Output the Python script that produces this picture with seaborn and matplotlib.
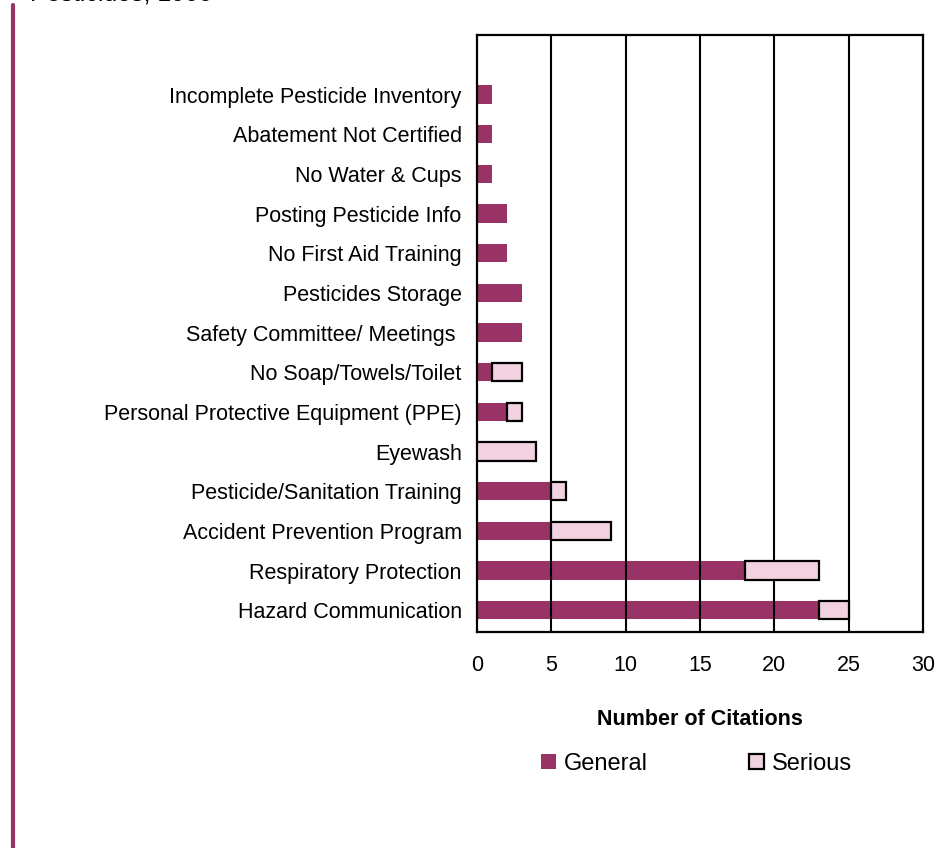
import matplotlib
matplotlib.use("Agg")
import matplotlib.pyplot as plt
from matplotlib.lines import Line2D
from matplotlib.patches import Patch
import seaborn as sns
import pandas as pd
import numpy as np

categories = [
    "Incomplete Pesticide Inventory",
    "Abatement Not Certified",
    "No Water & Cups",
    "Posting Pesticide Info",
    "No First Aid Training",
    "Pesticides Storage",
    "Safety Committee/ Meetings ",
    "No Soap/Towels/Toilet",
    "Personal Protective Equipment (PPE)",
    "Eyewash",
    "Pesticide/Sanitation Training",
    "Accident Prevention Program",
    "Respiratory Protection",
    "Hazard Communication",
]
general = [1, 1, 1, 2, 2, 3, 3, 1, 2, 0, 5, 5, 18, 23]
serious = [0, 0, 0, 0, 0, 0, 0, 2, 1, 4, 1, 4, 5, 2]
x_ticks = [0, 5, 10, 15, 20, 25, 30]

GENERAL_COLOR = "#993366"
SERIOUS_COLOR = "#F2D1E1"

df = pd.DataFrame({"category": categories, "General": general, "Serious": serious})

sns.set_style("white")
plt.rcParams["font.family"] = ["Liberation Sans", "DejaVu Sans"]

fig = plt.figure(figsize=(9.39, 8.48), dpi=100)
ax = fig.add_axes([477 / 939, 1 - 632 / 848, (923 - 477) / 939, (632 - 35) / 848])

bar_h = 0.46
sns.barplot(data=df, y="category", x="General", order=categories, color=GENERAL_COLOR,
            saturation=1, width=bar_h, orient="h", ax=ax, linewidth=0)

# Serious citations stacked after the general ones
ypos = np.arange(len(categories))
mask = np.array(serious) > 0
ax.barh(ypos[mask], np.array(serious)[mask], left=np.array(general)[mask], height=bar_h,
        color=SERIOUS_COLOR, edgecolor="black", linewidth=1.6, zorder=3)

ax.set_xlim(0, 30)
ax.set_ylim(13.55, -1.5)
ax.set_xticks(x_ticks)
ax.set_xticklabels([str(t) for t in x_ticks])
for t in x_ticks[1:-1]:
    ax.axvline(t, color="black", lw=1.5, zorder=1)
for s in ax.spines.values():
    s.set_visible(True)
    s.set_color("black")
    s.set_linewidth(1.6)
ax.tick_params(axis="both", length=0, labelsize=15.5, colors="black")
ax.tick_params(axis="y", pad=11)
ax.tick_params(axis="x", pad=16.5)
ax.set_ylabel("")
ax.set_xlabel("Number of Citations", fontsize=15.5, fontweight="bold", labelpad=24,
              color="black")

handles = [
    Patch(facecolor=GENERAL_COLOR, edgecolor=GENERAL_COLOR, linewidth=0),
    Patch(facecolor=SERIOUS_COLOR, edgecolor="black", linewidth=1.6),
]
fig.legend(handles, ["General", "Serious"], loc="center", bbox_to_anchor=(0.742, 1 - 764 / 848),
           ncol=2, frameon=False, fontsize=17, handlelength=0.62, handleheight=0.62,
           handletextpad=0.35, columnspacing=4.3, labelcolor="black")

# Left accent rule and page heading above the chart
fig.add_artist(Line2D([12.5 / 939, 12.5 / 939], [0, 1 - 5 / 848], transform=fig.transFigure,
                      color=GENERAL_COLOR, lw=3))
fig.text(30 / 939, 1.0, "Pesticides, 1999", fontsize=18, ha="left", va="baseline",
         color="black")

fig.savefig("out.png", dpi=100)
